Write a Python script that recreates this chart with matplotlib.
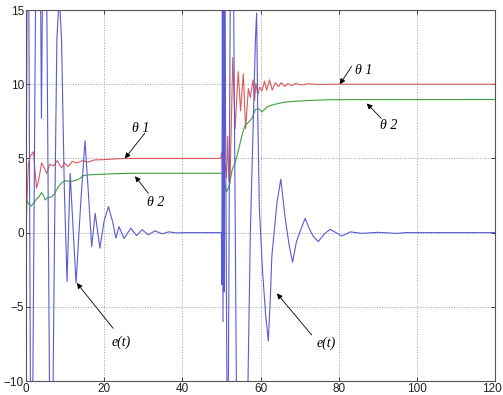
import matplotlib
matplotlib.use("Agg")
import matplotlib.pyplot as plt
from matplotlib.transforms import ScaledTranslation

# e(t) 误差曲线 (blue)
t_e = [0.0, 0.5, 1.35, 3.1, 3.95, 4.8, 6.4, 7.3, 7.9, 8.5, 9.1, 9.8, 10.5,
       11.3, 12.0, 12.8, 14.0, 15.1, 16.0, 16.8, 17.7, 18.9, 20.0, 21.1,
       22.2, 23.0, 23.8, 25.1, 26.8, 28.3, 29.7, 31.3, 33.0, 34.8, 36.5,
       38.5, 40.0, 50.0, 50.1, 50.25, 50.4, 50.55, 50.7, 50.85, 51.6, 52.6,
       54.5, 56.0, 56.8, 57.4, 58.1, 58.7, 59.0, 59.3, 59.7, 60.5, 61.3,
       62.0, 62.5, 62.9, 64.2, 65.2, 66.3, 67.3, 68.2, 69.2, 70.3, 71.4,
       72.6, 73.6, 74.8, 76.3, 77.8, 79.3, 80.8, 83.0, 86.0, 90.0, 95.0,
       97.0, 120.0]
e_vals = [0.0, 30, -25, 40, 7.7, 35, -25, 0.0, 13, 16, 13, 3.0, -3.3,
          4.0, 0.5, -3.4, 2.0, 6.2, 2.5, -0.95, 1.3, -1.05, 0.8, 1.75,
          0.7, -0.37, 0.4, -0.4, 0.3, -0.2, 0.2, -0.15, 0.12, -0.08, 0.05,
          -0.02, 0.0, 0.0, -3.5, 16, -6, 17, -4, 18, -20, 35,
          -35, -20, -10, 0.0, 7.0, 13, 14.8, 8.0, 1.7, -2.5, -5.5,
          -7.3, -4.5, -1.6, 2.0, 3.6, 1.0, -0.8, -2.0, -0.6, 0.2, 0.96,
          0.2, -0.3, -0.6, -0.1, 0.22, 0.0, -0.23, 0.05, -0.05, 0.02, -0.05,
          0.0, 0.0]

# theta 1 (red)
t_th1 = [0.0, 0.3, 0.6, 1.0, 1.5, 1.9, 2.3, 2.7, 3.2, 4.0, 4.6, 5.3, 6.1,
         7.0, 8.0, 9.1, 9.8, 10.8, 11.8, 13.0, 14.5, 15.8, 17.5, 20.0, 23.0,
         26.0, 49.8, 50.1, 50.3, 50.5, 50.7, 51.0, 51.3, 51.6, 51.9, 52.2,
         52.9, 53.5, 54.3, 54.9, 55.6, 56.2, 56.9, 57.4, 58.1, 58.5, 58.8,
         59.3, 59.8, 60.4, 61.0, 61.6, 62.3, 63.0, 63.8, 64.6, 65.3, 66.2,
         67.0, 68.0, 69.0, 70.5, 72.0, 75.0, 78.0, 120.0]
th1_vals = [0.2, 2.5, 4.6, 5.1, 5.3, 5.45, 4.2, 3.0, 3.5, 4.7, 4.4, 4.0, 4.6,
            4.5, 4.85, 4.35, 4.7, 4.45, 4.8, 4.7, 4.85, 4.75, 4.9, 4.92, 4.97,
            5.0, 5.0, 5.4, 4.1, 5.2, 3.8, 4.6, 3.7, 6.5, 3.5, 3.3,
            11.8, 7.0, 10.85, 8.2, 10.7, 7.0, 9.7, 9.1, 10.3, 8.9, 10.05,
            9.3, 9.8, 9.55, 10.2, 9.6, 10.3, 9.6, 10.1, 9.85, 10.1, 9.85,
            10.05, 9.9, 10.05, 9.95, 10.03, 9.98, 10.0, 10.0]

# theta 2 (green)
t_th2 = [0.0, 0.5, 1.3, 2.0, 2.8, 3.3, 4.0, 4.5, 4.9, 5.5, 6.5, 7.2, 8.3,
         9.3, 10.2, 11.3, 12.5, 13.8, 14.7, 16.5, 19.0, 23.0, 27.0, 50.0,
         50.3, 50.8, 51.3, 51.8, 52.3, 52.8, 53.5, 54.3, 55.3, 56.0, 57.0,
         57.8, 58.7, 59.5, 60.4, 61.6, 62.9, 64.5, 66.4, 70.0, 74.0, 78.0,
         120.0]
th2_vals = [2.3, 2.0, 1.8, 2.0, 2.3, 2.4, 2.7, 2.5, 2.2, 2.35, 2.4, 2.6, 3.1,
            3.4, 3.5, 3.45, 3.5, 3.65, 3.85, 3.9, 3.93, 3.97, 4.0, 4.0,
            3.9, 3.4, 2.75, 3.0, 3.6, 4.3, 4.7, 5.5, 6.6, 7.2, 7.45,
            7.7, 8.3, 8.35, 8.15, 8.45, 8.6, 8.7, 8.8, 8.87, 8.92, 8.96,
            8.97]

x_ticks = [0, 20, 40, 60, 80, 100, 120]
y_ticks = [-10, -5, 0, 5, 10, 15]

fig = plt.figure(figsize=(5.03, 3.95), dpi=100)
ax = fig.add_axes([0.0517, 0.0354, 0.9324, 0.9392])

ax.plot(t_th1, th1_vals, color='#dc5a5a', lw=0.8)
ax.plot(t_th2, th2_vals, color='#3c9f3c', lw=0.8)
ax.plot(t_e, e_vals, color='#5a5ad6', lw=0.8)

ax.set_xlim(0, 120)
ax.set_ylim(-10, 15)
ax.set_xticks(x_ticks)
ax.set_yticks(y_ticks)
ax.grid(True, linestyle=':', color='#a0a0a0', lw=0.7)
ax.tick_params(direction='in', length=3, width=0.6, top=True, right=True,
               labelsize=8.5, pad=1.5, colors='#222222')
for lab in ax.get_xticklabels() + ax.get_yticklabels():
    lab.set_family('Liberation Sans')
# keep "120" inside the canvas
last = ax.get_xticklabels()[-1]
last.set_transform(last.get_transform() +
                   ScaledTranslation(-2.5 / 72, 0, fig.dpi_scale_trans))
for s in ax.spines.values():
    s.set_color('#555555')
    s.set_linewidth(0.8)

# 注释
notes = [
    ("θ 1", (27.0, 7.0), (30.4, 6.7), (25.3, 5.0)),
    ("θ 2", (31.0, 2.0), (31.3, 2.65), (27.9, 3.8)),
    ("e(t)", (22.0, -7.4), (22.3, -6.45), (13.0, -3.4)),
    ("θ 1", (84.2, 10.95), (83.3, 11.2), (80.3, 10.0)),
    ("θ 2", (90.6, 7.2), (90.9, 7.7), (87.2, 8.7)),
    ("e(t)", (74.4, -7.45), (73.1, -6.9), (64.2, -4.1)),
]
for txt, pos, tail, tip in notes:
    ax.annotate('', xy=tip, xytext=tail,
                arrowprops=dict(arrowstyle='-|>', color='k', lw=0.6,
                                mutation_scale=8, shrinkA=0, shrinkB=0))
    ax.text(pos[0], pos[1], txt, fontsize=10, style='italic',
            family='Liberation Serif', ha='left', va='center')

plt.savefig('out.png', dpi=100)
